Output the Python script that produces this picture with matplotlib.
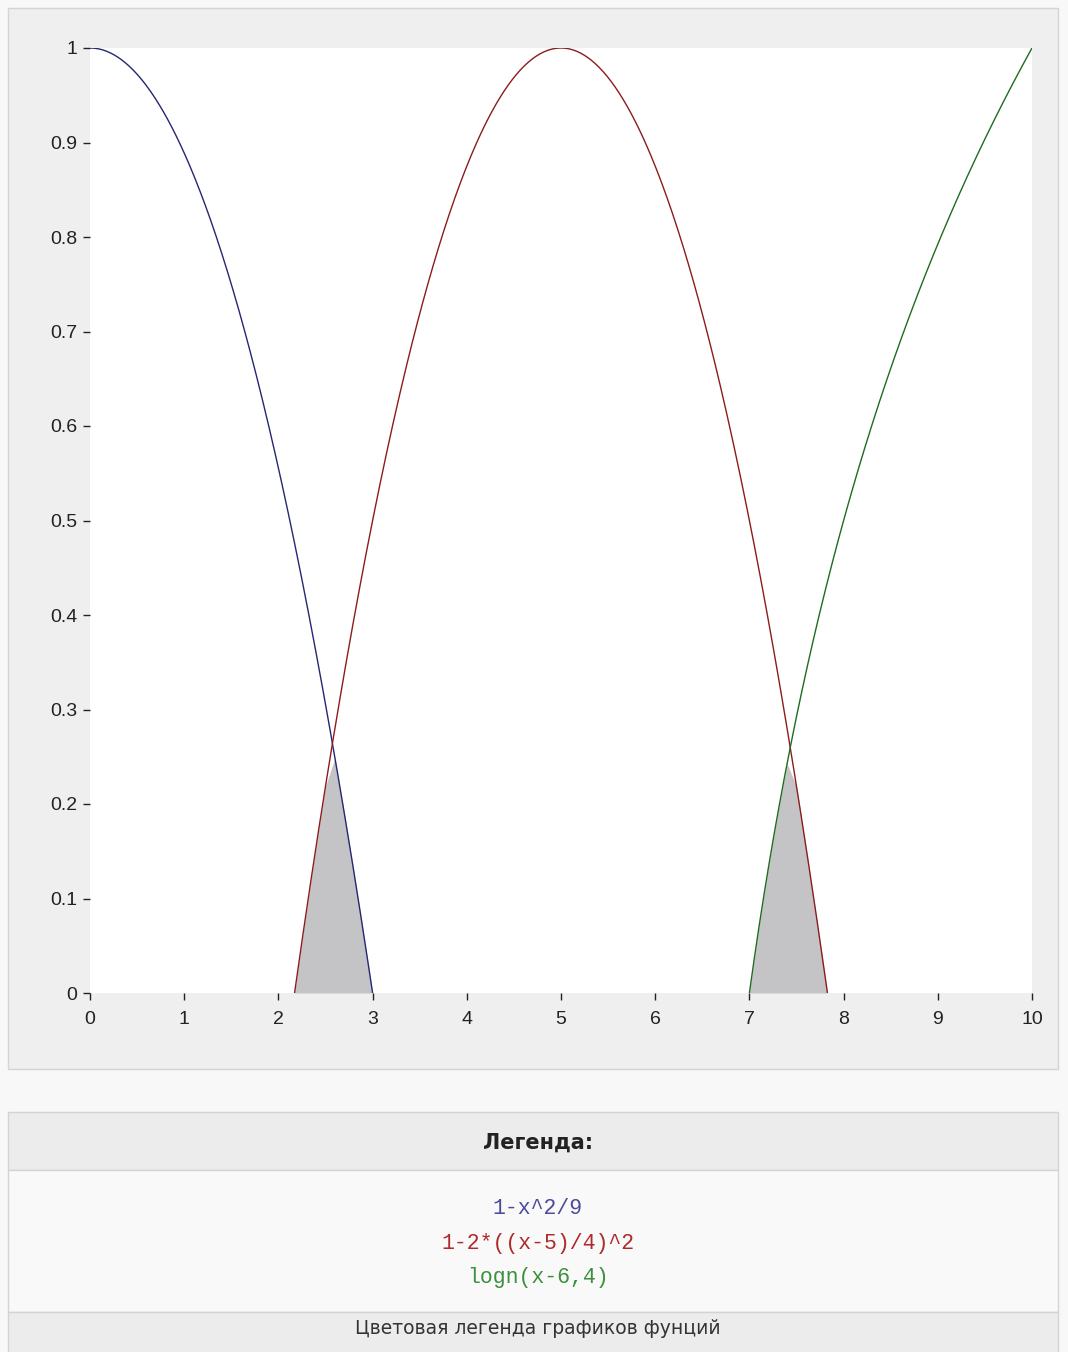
import numpy as np
import matplotlib
matplotlib.use('Agg')
import matplotlib.pyplot as plt
from matplotlib.patches import Rectangle

# size of the picture in pixels
W, H = 1068, 1352

# functions shown on the plot and in the legend
legend_labels = ['1-x^2/9', '1-2*((x-5)/4)^2', 'logn(x-6,4)']
line_colors = ['#262673', '#8c1c1c', '#1f6b1f']
text_colors = ['#4b4b9c', '#b02a2a', '#3d8f3d']
domains = [(0.0, 3.0), (5 - 2 * np.sqrt(2), 5 + 2 * np.sqrt(2)), (7.0, 10.0)]

x_ticks = [0, 1, 2, 3, 4, 5, 6, 7, 8, 9, 10]
y_ticks = [0, 0.1, 0.2, 0.3, 0.4, 0.5, 0.6, 0.7, 0.8, 0.9, 1]
y_tick_labels = ['0', '0.1', '0.2', '0.3', '0.4', '0.5', '0.6', '0.7', '0.8', '0.9', '1']

# shaded areas: between first/second and second/third function
shade_pairs = [(0, 1), (1, 2)]
shade_color = '#c4c4c6'


def f(i, x):
    if i == 0:
        return 1 - x ** 2 / 9
    if i == 1:
        return 1 - 2 * ((x - 5) / 4) ** 2
    return np.log(x - 6) / np.log(4)


def px_rect(fig, x0, y0, x1, y1, fc, ec):
    # rectangle given in pixels, measured from the top left corner
    r = Rectangle((x0 / W, 1 - y1 / H), (x1 - x0) / W, (y1 - y0) / H,
                  transform=fig.transFigure, facecolor=fc, edgecolor=ec,
                  linewidth=1, zorder=0)
    fig.add_artist(r)


fig = plt.figure(figsize=(W / 100, H / 100), dpi=100)
fig.patch.set_facecolor('#f8f8f8')

# panels
px_rect(fig, 8, 8, 1058, 1069, '#efefef', '#d4d4d4')
px_rect(fig, 8, 1112, 1058, 1170, '#ececec', '#d4d4d4')
px_rect(fig, 8, 1170, 1058, 1312, '#f9f9f9', '#d4d4d4')
px_rect(fig, 8, 1312, 1058, 1360, '#ececec', '#d4d4d4')

ax = fig.add_axes([90 / W, 1 - 993 / H, 942 / W, 945 / H])
ax.set_facecolor('white')
for s in ax.spines.values():
    s.set_visible(False)

for i in range(3):
    a, b = domains[i]
    xs = np.linspace(a, b, 400)
    if i == 2:
        xs = np.linspace(a + 1e-9, b, 400)
    ax.plot(xs, f(i, xs), color=line_colors[i], lw=1.0, zorder=3)

# grey areas under both neighbouring curves
for i, j in shade_pairs:
    a = max(domains[i][0], domains[j][0])
    b = min(domains[i][1], domains[j][1])
    xs = np.concatenate(([a], np.arange(np.ceil(a * 10) / 10, b, 0.1), [b]))
    xs = np.clip(xs, a + 1e-9, b)
    ys = np.clip(np.minimum(f(i, xs), f(j, xs)), 0, None)
    ax.fill_between(xs, 0, ys, color=shade_color, lw=0, zorder=2)

ax.set_xlim(0, 10)
ax.set_ylim(0, 1)
ax.set_xticks(x_ticks)
ax.set_yticks(y_ticks)
ax.set_yticklabels(y_tick_labels)
ax.tick_params(direction='out', length=5, width=1, color='#222222',
               labelsize=14, labelcolor='#222222')
ax.tick_params(axis='x', pad=8)
ax.tick_params(axis='y', pad=4)
for lab in ax.get_xticklabels() + ax.get_yticklabels():
    lab.set_family('Liberation Sans')

# legend block
cx = 538 / W
fig.text(cx, 1 - 1143 / H, 'Легенда:', ha='center', va='center',
         fontsize=15, fontweight='bold', family='DejaVu Sans', color='#222222')
for k, lab in enumerate(legend_labels):
    fig.text(cx, 1 - (1208 + 35 * k) / H, lab, ha='center', va='center',
             fontsize=15.5, family='Liberation Mono', color=text_colors[k])
fig.text(cx, 1 - 1329 / H, 'Цветовая легенда графиков фунций', ha='center',
         va='center', fontsize=13.5, family='DejaVu Sans', color='#333333')

fig.savefig('out.png', dpi=100, facecolor=fig.get_facecolor())
